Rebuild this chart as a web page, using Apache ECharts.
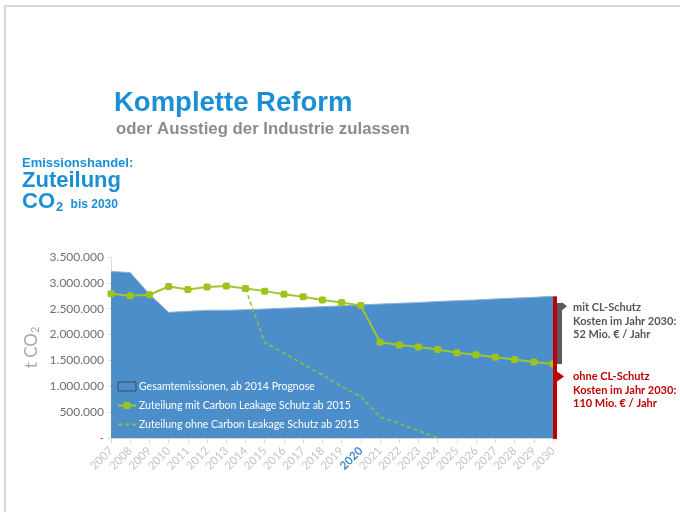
<!DOCTYPE html>
<html>
<head>
<meta charset="utf-8">
<script src="https://cdn.jsdelivr.net/npm/echarts@6/dist/echarts.min.js"></script>
<style>
  html, body { margin: 0; padding: 0; background: #fff; }
  #chart { width: 680px; height: 512px; }
</style>
</head>
<body>
<div id="chart"></div>
<script>
const years = ["2007","2008","2009","2010","2011","2012","2013","2014","2015","2016","2017","2018",
  "2019","2020","2021","2022","2023","2024","2025","2026","2027","2028","2029","2030"];

// Gesamtemissionen (ab 2014 Prognose)
const emissions = [3220000, 3200000, 2780000, 2430000, 2450000, 2470000, 2470000, 2480000, 2495000, 2510000,
  2525000, 2540000, 2555000, 2575000, 2590000, 2605000, 2620000, 2640000, 2655000, 2670000,
  2690000, 2705000, 2720000, 2740000];

// Zuteilung mit Carbon Leakage Schutz ab 2015
const withCL = [2790000, 2750000, 2770000, 2930000, 2870000, 2920000, 2940000, 2890000, 2840000, 2780000,
  2730000, 2670000, 2620000, 2560000, 1850000, 1800000, 1760000, 1710000, 1650000, 1610000,
  1560000, 1520000, 1470000, 1430000];

// Zuteilung ohne Carbon Leakage Schutz ab 2015
const withoutCL = [null, null, null, null, null, null, null, 2890000, 1850000, 1640000,
  1430000, 1220000, 1000000, 800000, 410000, 280000, 140000, 0, null, null,
  null, null, null, null];

const yTicks = [0, 500000, 1000000, 1500000, 2000000, 2500000, 3000000, 3500000];

// 2030 brackets: [year, low, high, arrow value]
const redBracket = [["2030", 0, 2740000, 1190000]];
const greyBracket = [["2030", 1430000, 2610000, 2550000]];

const blue = "#1a8fd5";
const green = "#9cc31f";

function fmt(v) {
  if (v === 0) return "-";
  return String(v).replace(/\B(?=(\d{3})+(?!\d))/g, ".");
}

const chart = echarts.init(document.getElementById("chart"), null, { renderer: "canvas" });

chart.setOption({
  animation: false,
  backgroundColor: "#fff",
  grid: { left: 111, right: 127, top: 257, bottom: 74 },
  graphic: [
    { type: "line", shape: { x1: 4, y1: 6, x2: 680, y2: 6 }, style: { stroke: "#d9d9d9", lineWidth: 2 } },
    { type: "line", shape: { x1: 5, y1: 6, x2: 5, y2: 512 }, style: { stroke: "#d9d9d9", lineWidth: 2 } },
    { type: "text", left: 114, top: 89, style: { text: "Komplette Reform", fill: blue,
      font: "bold 27.5px 'Liberation Sans', Arial, sans-serif" } },
    { type: "text", left: 116, top: 121, style: { text: "oder Ausstieg der Industrie zulassen", fill: "#8c8c8c",
      font: "bold 16.8px 'Liberation Sans', Arial, sans-serif" } },
    { type: "text", left: 22, top: 157, style: { text: "Emissionshandel:", fill: blue,
      font: "bold 13px 'Liberation Sans', Arial, sans-serif" } },
    { type: "text", left: 22, top: 170, style: { text: "Zuteilung", fill: blue,
      font: "bold 22px 'Liberation Sans', Arial, sans-serif" } },
    { type: "text", left: 22, top: 191, style: { text: "{a|CO}{b|2}{c| bis 2030}", fill: blue,
      rich: {
        a: { font: "bold 22px 'Liberation Sans', Arial, sans-serif", fill: blue, verticalAlign: "top" },
        b: { font: "bold 13px 'Liberation Sans', Arial, sans-serif", fill: blue, padding: [10, 0, 0, 1] },
        c: { font: "bold 12px 'Liberation Sans', Arial, sans-serif", fill: blue, padding: [4, 0, 0, 4] }
      } } },
    { type: "text", left: 573, top: 301, style: { text: "mit CL-Schutz\nKosten im Jahr 2030:\n52 Mio. € / Jahr",
      fill: "#555555", font: "bold 11px Lato, sans-serif", lineHeight: 13.5 } },
    { type: "text", left: 573, top: 370, style: { text: "ohne CL-Schutz\nKosten im Jahr 2030:\n110 Mio. € / Jahr",
      fill: "#c00000", font: "bold 11px Lato, sans-serif", lineHeight: 13.5 } }
  ],
  legend: {
    orient: "vertical",
    left: 117,
    top: 381,
    padding: 0,
    itemWidth: 18,
    itemHeight: 9,
    itemGap: 8,
    textStyle: { color: "#fff", fontSize: 10.5, fontFamily: "Lato, sans-serif", padding: [0, 0, 0, -2] },
    data: [
      { name: "Gesamtemissionen, ab 2014 Prognose", icon: "rect",
        itemStyle: { color: "#4b8ec9", borderColor: "#3a4a5a", borderWidth: 1 } },
      { name: "Zuteilung mit Carbon Leakage Schutz ab 2015" },
      { name: "Zuteilung ohne Carbon Leakage Schutz ab 2015", itemStyle: { opacity: 0 } }
    ]
  },
  xAxis: {
    type: "category",
    data: years,
    boundaryGap: false,
    axisLine: { lineStyle: { color: "#d8d8d8" } },
    axisTick: { show: true, interval: 0, lineStyle: { color: "#d8d8d8" } },
    axisLabel: {
      interval: 0,
      rotate: 45,
      margin: 11,
      color: "#c4c4c4",
      fontSize: 11.5,
      fontFamily: "Lato, sans-serif",
      formatter: (v) => (v === "2020" ? "{hl|" + v + "}" : v),
      rich: { hl: { color: "#3c87c9", fontWeight: "bold", fontSize: 11.5, fontFamily: "Lato, sans-serif" } }
    }
  },
  yAxis: {
    type: "value",
    min: 0,
    max: 3500000,
    interval: 500000,
    name: "{a|t CO}{b|2}",
    nameLocation: "middle",
    nameGap: 70,
    nameRotate: 90,
    nameMoveOverlap: false,
    nameTextStyle: {
      rich: {
        a: { color: "#a8a8a8", fontSize: 17, fontFamily: "Lato, sans-serif" },
        b: { color: "#a8a8a8", fontSize: 11, fontFamily: "Lato, sans-serif", padding: [8, 0, 0, 0] }
      }
    },
    axisLine: { show: true, lineStyle: { color: "#dddddd" } },
    axisTick: { show: true, length: 3, lineStyle: { color: "#dddddd" } },
    splitLine: { show: false },
    axisLabel: {
      color: "#6e6e6e",
      fontSize: 12,
      fontFamily: "Lato, sans-serif",
      margin: 7,
      customValues: yTicks,
      formatter: fmt
    }
  },
  series: [
    {
      name: "Gesamtemissionen, ab 2014 Prognose",
      type: "line",
      data: emissions,
      symbol: "none",
      lineStyle: { color: "#8fb3d6", width: 1 },
      itemStyle: { color: "#4b8ec9" },
      areaStyle: { color: "#4b8ec9", opacity: 1 },
      z: 1
    },
    {
      name: "Zuteilung ohne Carbon Leakage Schutz ab 2015",
      type: "line",
      data: withoutCL,
      symbol: "none",
      lineStyle: { color: "#8fc13a", width: 1.5, type: [4, 3] },
      itemStyle: { color: "#8fc13a" },
      z: 3
    },
    {
      name: "Zuteilung mit Carbon Leakage Schutz ab 2015",
      type: "line",
      data: withCL,
      symbol: "roundRect",
      symbolSize: 7,
      lineStyle: { color: "#a0c62a", width: 2 },
      itemStyle: { color: green },
      z: 4
    },
    {
      type: "custom",
      data: redBracket,
      z: 5,
      renderItem: (params, api) => {
        const lo = api.coord([api.value(0), api.value(1)]);
        const hi = api.coord([api.value(0), api.value(2)]);
        const ar = api.coord([api.value(0), api.value(3)]);
        return {
          type: "group",
          children: [
            { type: "rect", shape: { x: lo[0], y: hi[1], width: 4, height: lo[1] - hi[1] + 1 },
              style: { fill: "#c00000" } },
            { type: "polygon", shape: { points: [[lo[0] + 4, ar[1] - 5], [lo[0] + 11, ar[1]], [lo[0] + 4, ar[1] + 5]] },
              style: { fill: "#c00000" } }
          ]
        };
      }
    },
    {
      type: "custom",
      data: greyBracket,
      z: 5,
      renderItem: (params, api) => {
        const lo = api.coord([api.value(0), api.value(1)]);
        const hi = api.coord([api.value(0), api.value(2)]);
        const ar = api.coord([api.value(0), api.value(3)]);
        return {
          type: "group",
          children: [
            { type: "rect", shape: { x: lo[0] + 4, y: hi[1], width: 5, height: lo[1] - hi[1] },
              style: { fill: "#5a5a5a" } },
            { type: "polygon", shape: { points: [[lo[0] + 9, ar[1] - 4], [lo[0] + 14, ar[1]], [lo[0] + 9, ar[1] + 4]] },
              style: { fill: "#5a5a5a" } }
          ]
        };
      }
    }
  ]
});
</script>
</body>
</html>
